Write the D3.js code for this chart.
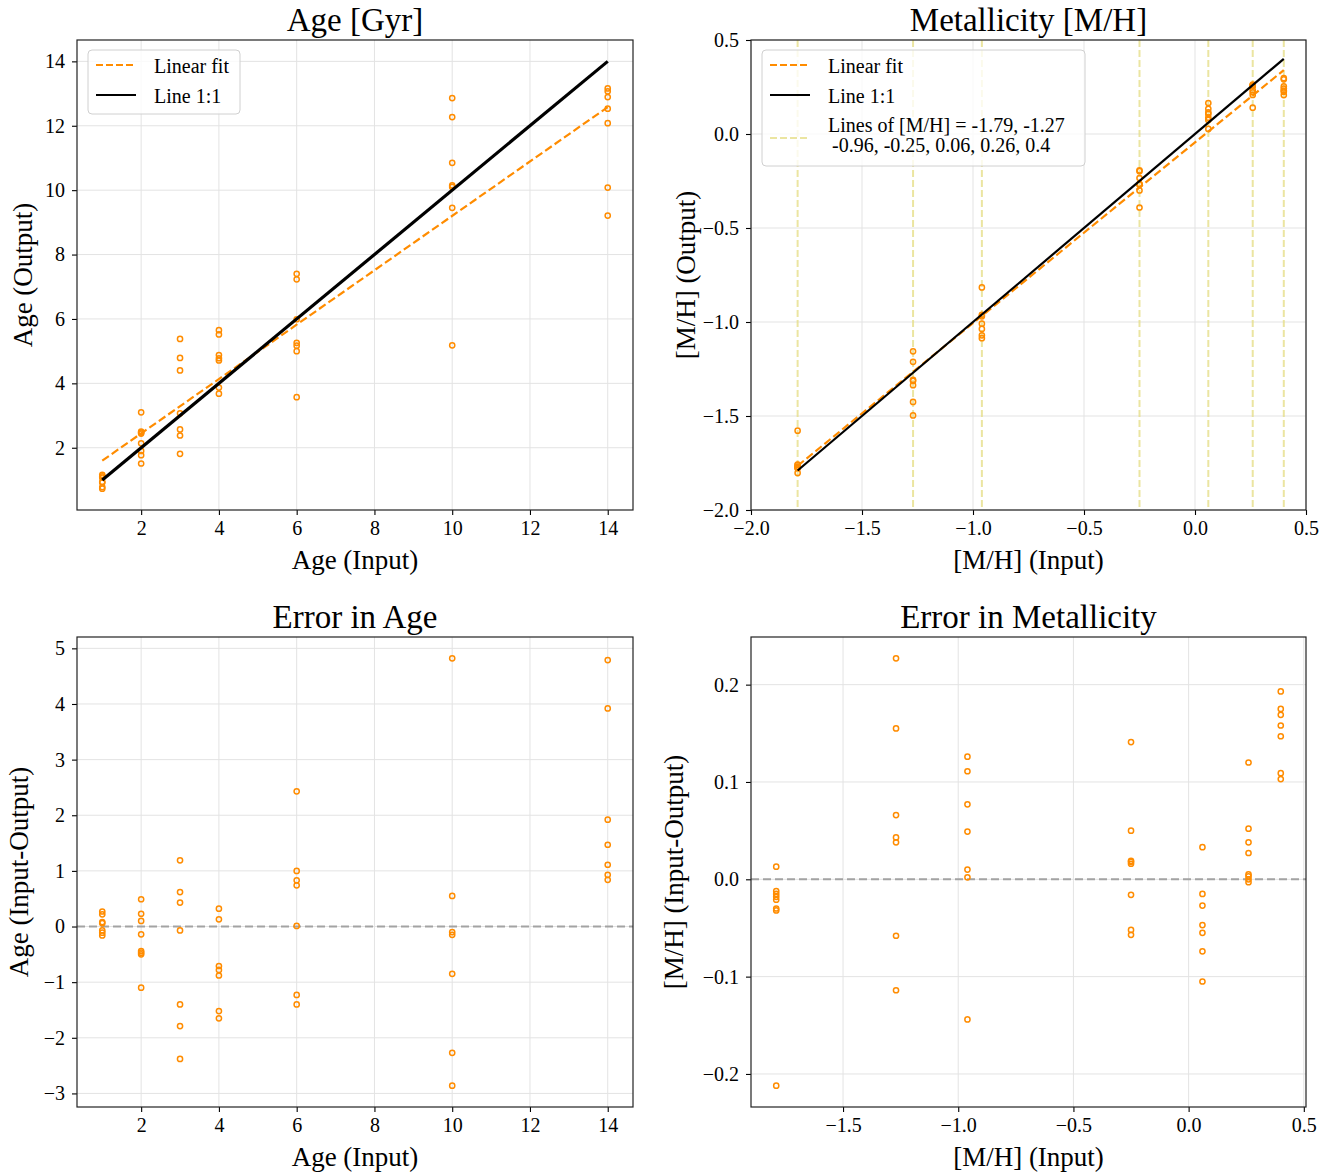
<!DOCTYPE html>
<head>
	<meta charset="utf-8">
	<script src="https://d3js.org/d3.v7.min.js"></script>
	<style>
		body { margin: 0; background: #fff; }
		text { font-family: "Liberation Serif", "Times New Roman", serif; fill: #000; }
	</style>
</head>
<body>
<svg></svg>
<script>
	// input grids
	var ageLevels = [1, 2, 3, 4, 6, 10, 14];
	var metLevels = [-1.79, -1.27, -0.96, -0.25, 0.06, 0.26, 0.4];

	// recovered values, one list per input level
	var ageOut = [
		[0.73, 0.78, 0.92, 0.94, 1.07, 1.11, 1.16],
		[1.51, 1.77, 1.90, 2.14, 2.44, 2.47, 2.50, 3.10],
		[1.81, 2.38, 2.57, 3.07, 4.40, 4.79, 5.38],
		[3.68, 3.87, 4.71, 4.78, 4.88, 5.52, 5.65],
		[3.57, 5.00, 5.17, 5.26, 5.99, 7.23, 7.40],
		[5.18, 9.45, 10.10, 10.15, 10.85, 12.27, 12.86],
		[9.21, 10.08, 12.08, 12.53, 12.89, 13.07, 13.16]
	];
	var ageErr = [
		[0.27, 0.22, 0.08, 0.06, -0.07, -0.11, -0.16],
		[0.49, 0.23, 0.10, -0.14, -0.44, -0.47, -0.50, -1.10],
		[1.19, 0.62, 0.43, -0.07, -1.40, -1.79, -2.38],
		[0.32, 0.13, -0.71, -0.78, -0.88, -1.52, -1.65],
		[2.43, 1.00, 0.83, 0.74, 0.01, -1.23, -1.40],
		[4.82, 0.55, -0.10, -0.15, -0.85, -2.27, -2.86],
		[4.79, 3.92, 1.92, 1.47, 1.11, 0.93, 0.84]
	];
	var metOut = [
		[-1.803, -1.778, -1.775, -1.772, -1.769, -1.760, -1.758, -1.578],
		[-1.497, -1.425, -1.336, -1.313, -1.308, -1.212, -1.156],
		[-1.086, -1.071, -1.037, -1.009, -0.970, -0.962, -0.816],
		[-0.391, -0.300, -0.269, -0.268, -0.266, -0.234, -0.198, -0.193],
		[0.027, 0.075, 0.087, 0.107, 0.115, 0.134, 0.165],
		[0.140, 0.208, 0.222, 0.233, 0.255, 0.257, 0.260, 0.263],
		[0.207, 0.225, 0.231, 0.242, 0.253, 0.291, 0.297]
	];
	var metErr = [
		[0.013, -0.012, -0.015, -0.018, -0.021, -0.030, -0.032, -0.212],
		[0.227, 0.155, 0.066, 0.043, 0.038, -0.058, -0.114],
		[0.126, 0.111, 0.077, 0.049, 0.010, 0.002, -0.144],
		[0.141, 0.050, 0.019, 0.018, 0.016, -0.016, -0.052, -0.057],
		[0.033, -0.015, -0.027, -0.047, -0.055, -0.074, -0.105],
		[0.120, 0.052, 0.038, 0.027, 0.005, 0.003, 0.000, -0.003],
		[0.193, 0.175, 0.169, 0.158, 0.147, 0.109, 0.103]
	];

	// fitted lines, end points
	var ageFit = [[1, 1.60], [14, 12.58]];
	var metFit = [[-1.79, -1.765], [0.4, 0.34]];

	var ageTicks = [2, 4, 6, 8, 10, 12, 14];
	var ageErrTicks = [-3, -2, -1, 0, 1, 2, 3, 4, 5];
	var metTicks = [-2.0, -1.5, -1.0, -0.5, 0.0, 0.5];
	var metErrXTicks = [-1.5, -1.0, -0.5, 0.0, 0.5];
	var metErrYTicks = [-0.2, -0.1, 0.0, 0.1, 0.2];

	var orange = '#ff8c00';
	var khaki = '#e6df8a';

	var svg = d3.select('svg').attr('width', 1335).attr('height', 1175);

	function flat(levels, vals) {
		var out = [];
		levels.forEach(function(l, i) {
			vals[i].forEach(function(v) { out.push([l, v]); });
		});
		return out;
	}

	// matplotlib style 5% margins
	function pad(ext) {
		var m = (ext[1] - ext[0]) * 0.05;
		return [ext[0] - m, ext[1] + m];
	}

	function panel(o) {
		var g = svg.append('g');
		var x = d3.scaleLinear().domain(o.xDom).range([o.left, o.right]);
		var y = d3.scaleLinear().domain(o.yDom).range([o.bottom, o.top]);

		// grid
		g.selectAll('.gx').data(o.xTicks).enter().append('line')
			.attr('x1', function(d) { return x(d); }).attr('x2', function(d) { return x(d); })
			.attr('y1', o.top).attr('y2', o.bottom)
			.attr('stroke', '#e3e3e3').attr('stroke-width', 1);
		g.selectAll('.gy').data(o.yTicks).enter().append('line')
			.attr('y1', function(d) { return y(d); }).attr('y2', function(d) { return y(d); })
			.attr('x1', o.left).attr('x2', o.right)
			.attr('stroke', '#e3e3e3').attr('stroke-width', 1);

		var xAxis = d3.axisBottom(x).tickValues(o.xTicks).tickSize(5).tickPadding(6).tickFormat(o.xFmt);
		var yAxis = d3.axisLeft(y).tickValues(o.yTicks).tickSize(5).tickPadding(7).tickFormat(o.yFmt);
		var ax = g.append('g').attr('transform', 'translate(0,' + o.bottom + ')').call(xAxis);
		var ay = g.append('g').attr('transform', 'translate(' + o.left + ',0)').call(yAxis);
		[ax, ay].forEach(function(a) {
			a.select('.domain').remove();
			a.selectAll('line').attr('stroke', '#000').attr('stroke-width', 1.1);
			a.selectAll('text').attr('font-size', 20).attr('font-family', '"Liberation Serif", serif').attr('fill', '#000');
		});

		// title and labels
		g.append('text').attr('x', (o.left + o.right) / 2).attr('y', o.top - 9)
			.attr('text-anchor', 'middle').attr('font-size', 33).text(o.title);
		g.append('text').attr('x', (o.left + o.right) / 2).attr('y', o.bottom + 59)
			.attr('text-anchor', 'middle').attr('font-size', 27).text(o.xLabel);
		g.append('text').attr('transform', 'translate(' + o.yLabelX + ',' + (o.top + o.bottom) / 2 + ') rotate(-90)')
			.attr('dy', '0.35em').attr('text-anchor', 'middle').attr('font-size', 27).text(o.yLabel);

		var plot = g.append('g');
		o.draw(plot, x, y);

		g.append('rect').attr('x', o.left).attr('y', o.top)
			.attr('width', o.right - o.left).attr('height', o.bottom - o.top)
			.attr('fill', 'none').attr('stroke', '#222').attr('stroke-width', 1.2);
		return g;
	}

	function scatter(plot, x, y, pts) {
		plot.selectAll('circle.pt').data(pts).enter().append('circle')
			.attr('class', 'pt')
			.attr('cx', function(d) { return x(d[0]); })
			.attr('cy', function(d) { return y(d[1]); })
			.attr('r', 2.6)
			.attr('fill', 'none')
			.attr('stroke', orange)
			.attr('stroke-width', 1.5);
	}

	function line(plot, x, y, pts, color, width, dash) {
		plot.append('path')
			.attr('d', d3.line().x(function(d) { return x(d[0]); }).y(function(d) { return y(d[1]); })(pts))
			.attr('fill', 'none').attr('stroke', color).attr('stroke-width', width)
			.attr('stroke-dasharray', dash || null);
	}

	function legend(g, lx, ly, w, h, items) {
		g.append('rect').attr('x', lx).attr('y', ly).attr('width', w).attr('height', h)
			.attr('rx', 4).attr('fill', '#fff').attr('fill-opacity', 0.8)
			.attr('stroke', '#d0d0d0').attr('stroke-width', 1);
		items.forEach(function(it) {
			g.append('line').attr('x1', lx + 8).attr('x2', lx + 48).attr('y1', it.y).attr('y2', it.y)
				.attr('stroke', it.color).attr('stroke-width', it.width).attr('stroke-opacity', it.op || 1)
				.attr('stroke-dasharray', it.dash || null);
			it.text.forEach(function(t, k) {
				g.append('text').attr('x', lx + 66 + (k > 0 ? 4 : 0)).attr('y', it.ty + k * 20)
					.attr('font-size', 20).text(t);
			});
		});
	}

	var agePts = flat(ageLevels, ageOut);
	var ageErrPts = flat(ageLevels, ageErr);
	var metPts = flat(metLevels, metOut);
	var metErrPts = flat(metLevels, metErr);

	var fmt0 = d3.format('d');
	var fmt1 = d3.format('.1f');

	// Age output vs input
	var tl = panel({
		left: 77, right: 633, top: 40, bottom: 510,
		xDom: pad([1, 14]),
		yDom: pad([d3.min(agePts, function(d) { return d[1]; }), 14]),
		xTicks: ageTicks, yTicks: ageTicks, xFmt: fmt0, yFmt: fmt0,
		title: 'Age [Gyr]', xLabel: 'Age (Input)', yLabel: 'Age (Output)', yLabelX: 23,
		draw: function(p, x, y) {
			scatter(p, x, y, agePts);
			line(p, x, y, ageFit, orange, 2.2, '8,3.5');
			line(p, x, y, [[1, 1], [14, 14]], '#000', 3.2);
		}
	});
	legend(tl, 88, 50, 152, 64, [
		{ y: 65, ty: 73, color: orange, width: 2, dash: '7,3', text: ['Linear fit'] },
		{ y: 95, ty: 103, color: '#000', width: 2.2, text: ['Line 1:1'] }
	]);

	// Metallicity output vs input
	var tr = panel({
		left: 751, right: 1306, top: 40, bottom: 510,
		xDom: [-2, 0.5], yDom: [-2, 0.5],
		xTicks: metTicks, yTicks: metTicks, xFmt: fmt1, yFmt: fmt1,
		title: 'Metallicity [M/H]', xLabel: '[M/H] (Input)', yLabel: '[M/H] (Output)', yLabelX: 686,
		draw: function(p, x, y) {
			p.selectAll('line.ref').data(metLevels).enter().append('line')
				.attr('x1', function(d) { return x(d); }).attr('x2', function(d) { return x(d); })
				.attr('y1', y(0.5)).attr('y2', y(-2))
				.attr('stroke', khaki).attr('stroke-opacity', 0.8).attr('stroke-width', 2)
				.attr('stroke-dasharray', '7,3');
			scatter(p, x, y, metPts);
			line(p, x, y, metFit, orange, 2.2, '8,3.5');
			line(p, x, y, [[-1.79, -1.79], [0.4, 0.4]], '#000', 2.2);
		}
	});
	legend(tr, 762, 50, 323, 116, [
		{ y: 65, ty: 73, color: orange, width: 2, dash: '7,3', text: ['Linear fit'] },
		{ y: 95, ty: 103, color: '#000', width: 2.2, text: ['Line 1:1'] },
		{ y: 138, ty: 132, color: khaki, op: 0.8, width: 2, dash: '7,3',
			text: ['Lines of [M/H] = -1.79, -1.27', '-0.96, -0.25, 0.06, 0.26, 0.4'] }
	]);

	// Age error
	panel({
		left: 77, right: 633, top: 637, bottom: 1107,
		xDom: pad([1, 14]),
		yDom: pad(d3.extent(ageErrPts, function(d) { return d[1]; })),
		xTicks: ageTicks, yTicks: ageErrTicks, xFmt: fmt0, yFmt: fmt0,
		title: 'Error in Age', xLabel: 'Age (Input)', yLabel: 'Age (Input-Output)', yLabelX: 19,
		draw: function(p, x, y) {
			p.append('line').attr('x1', 77).attr('x2', 633).attr('y1', y(0)).attr('y2', y(0))
				.attr('stroke', '#a3a3a3').attr('stroke-width', 2).attr('stroke-dasharray', '8,4');
			scatter(p, x, y, ageErrPts);
		}
	});

	// Metallicity error
	panel({
		left: 751, right: 1306, top: 637, bottom: 1107,
		xDom: pad(d3.extent(metLevels)),
		yDom: pad(d3.extent(metErrPts, function(d) { return d[1]; })),
		xTicks: metErrXTicks, yTicks: metErrYTicks, xFmt: fmt1, yFmt: fmt1,
		title: 'Error in Metallicity', xLabel: '[M/H] (Input)', yLabel: '[M/H] (Input-Output)', yLabelX: 674,
		draw: function(p, x, y) {
			p.append('line').attr('x1', 751).attr('x2', 1306).attr('y1', y(0)).attr('y2', y(0))
				.attr('stroke', '#a3a3a3').attr('stroke-width', 2).attr('stroke-dasharray', '8,4');
			scatter(p, x, y, metErrPts);
		}
	});
</script>
</body>
</html>
